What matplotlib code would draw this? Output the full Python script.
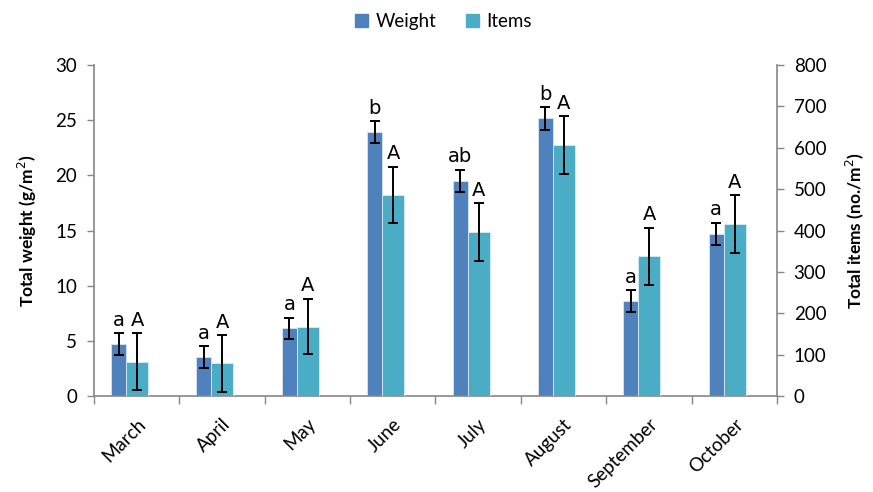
import matplotlib
matplotlib.use("Agg")
import matplotlib.pyplot as plt
import numpy as np
from matplotlib.patches import Patch

plt.rcParams['font.family'] = ['Lato', 'DejaVu Sans']

months = ["March", "April", "May", "June", "July", "August", "September", "October"]
weight = [4.7, 3.5, 6.15, 23.9, 19.5, 25.15, 8.6, 14.7]
weight_err = [1.0, 1.0, 0.95, 1.0, 1.0, 1.0, 1.0, 1.0]
items = [83, 79, 168, 486, 396, 606, 338, 415]
items_err = [69, 68, 67, 68, 70, 70, 69, 70]
weight_letters = ["a", "a", "a", "b", "ab", "b", "a", "a"]
items_letters = ["A", "A", "A", "A", "A", "A", "A", "A"]

c_weight = "#4F81BD"
c_items = "#4BACC6"
axis_grey = "#868686"

fig = plt.figure(figsize=(8.73, 4.92), dpi=100)
ax = fig.add_axes([0.1077, 0.195, 0.7823, 0.673])
ax2 = ax.twinx()

x = np.arange(len(months))
w_left, w_width = -0.30, 0.176
i_width = 0.257
i_left = w_left + w_width

ax.bar(x + w_left, weight, width=w_width, align='edge', color=c_weight,
       edgecolor="#dbe5f1", linewidth=0.6, zorder=2)
ax.errorbar(x + w_left + w_width / 2, weight, yerr=weight_err, fmt='none',
            ecolor='black', elinewidth=1.4, capsize=3.6, capthick=1.4, zorder=3)
ax2.bar(x + i_left, items, width=i_width, align='edge', color=c_items,
        edgecolor="#dbeef3", linewidth=0.6, zorder=2)
ax2.errorbar(x + i_left + i_width / 2, items, yerr=items_err, fmt='none',
             ecolor='black', elinewidth=1.4, capsize=3.6, capthick=1.4, zorder=3)

for xi, v, e, t in zip(x, weight, weight_err, weight_letters):
    ax.text(xi + w_left + w_width / 2, v + e + 0.3, t, ha='center', va='bottom',
            fontsize=14, family=['DejaVu Sans'])
for xi, v, e, t in zip(x, items, items_err, items_letters):
    ax2.text(xi + i_left + i_width / 2, v + e + 8, t, ha='center', va='bottom',
             fontsize=14, family=['DejaVu Sans'])

ax.set_xlim(-0.5, len(months) - 0.5)
ax.set_ylim(0, 30)
ax2.set_ylim(0, 800)
ax.set_yticks(np.arange(0, 31, 5))
ax2.set_yticks(np.arange(0, 801, 100))

ax.set_xticks(x)
ax.set_xticklabels(months, rotation=45, ha='right', rotation_mode='anchor', fontsize=13.5)
ax.set_xticks(np.arange(-0.5, len(months)), minor=True)
ax.tick_params(axis='x', which='major', length=0, pad=14)
ax.tick_params(axis='x', which='minor', length=6, color=axis_grey, width=1)
ax.tick_params(axis='y', length=5, color=axis_grey, width=1, labelsize=13.5, pad=7)
ax2.tick_params(axis='y', length=5, color=axis_grey, width=1, labelsize=13.5, pad=7)

for a in (ax, ax2):
    a.spines['top'].set_visible(False)
    for s in ('left', 'right', 'bottom'):
        a.spines[s].set_color(axis_grey)
        a.spines[s].set_linewidth(1.2)
ax.spines['right'].set_visible(False)
ax2.spines['left'].set_visible(False)
ax2.spines['bottom'].set_visible(False)

ax.set_ylabel("Total weight (g/m$^2$)", fontsize=12.5, fontweight='bold', labelpad=12)
ax2.set_ylabel("Total items (no./m$^2$)", fontsize=12.5, fontweight='bold', labelpad=12)

handles = [Patch(facecolor=c_weight, edgecolor=c_weight),
           Patch(facecolor=c_items, edgecolor=c_items)]
fig.legend(handles, ["Weight", "Items"], loc='center', bbox_to_anchor=(0.508, 0.956),
           ncol=2, frameon=False, fontsize=13.5, handlelength=0.7, handleheight=0.7,
           handletextpad=0.4, columnspacing=1.6)

fig.savefig("out.png", dpi=100)
